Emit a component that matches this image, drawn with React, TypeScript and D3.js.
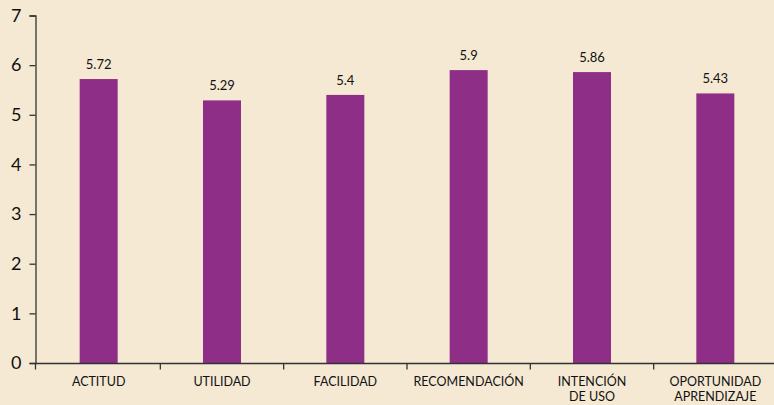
import React, { useEffect, useRef } from "react";
import * as d3 from "d3";

const categories: string[][] = [
  ["ACTITUD"],
  ["UTILIDAD"],
  ["FACILIDAD"],
  ["RECOMENDACIÓN"],
  ["INTENCIÓN", "DE USO"],
  ["OPORTUNIDAD", "APRENDIZAJE"],
];
const values = [5.72, 5.29, 5.4, 5.9, 5.86, 5.43];
const valueLabels = ["5.72", "5.29", "5.4", "5.9", "5.86", "5.43"];
const yTicks = [0, 1, 2, 3, 4, 5, 6, 7];

const W = 774;
const H = 405;
const FONT = "Lato, 'Open Sans', sans-serif";

const App: React.FC = () => {
  const svgRef = useRef<SVGSVGElement>(null);

  useEffect(() => {
    if (!svgRef.current) return;
    const svg = d3.select(svgRef.current);
    svg.selectAll("*").remove();

    svg.append("rect").attr("width", W).attr("height", H).attr("fill", "#f5e9d4");

    const keys = categories.map((c) => c.join(" "));
    const x = d3.scaleBand().domain(keys).range([37, 777]).padding(0);
    const y = d3.scaleLinear().domain([0, 7]).range([363, 15.5]);
    const barW = 38;

    svg
      .selectAll(".bar")
      .data(values)
      .enter()
      .append("rect")
      .attr("class", "bar")
      .attr("x", (_, i) => (x(keys[i]) as number) + x.bandwidth() / 2 - barW / 2)
      .attr("y", (d) => y(d))
      .attr("width", barW)
      .attr("height", (d) => y(0) - y(d))
      .attr("fill", "#8e2e86");

    svg
      .selectAll(".val")
      .data(values)
      .enter()
      .append("text")
      .attr("class", "val")
      .attr("x", (_, i) => (x(keys[i]) as number) + x.bandwidth() / 2)
      .attr("y", (d) => y(d) - 10)
      .attr("text-anchor", "middle")
      .style("font-family", FONT)
      .style("font-size", "13px")
      .style("fill", "#111")
      .text((_, i) => valueLabels[i]);

    // y axis
    const yAxis = svg
      .append("g")
      .attr("transform", "translate(35.5,0)")
      .call(d3.axisLeft(y).tickValues(yTicks).tickSize(6).tickPadding(8).tickFormat(d3.format("d")));
    yAxis.select(".domain").attr("stroke", "#333").attr("stroke-width", 1.3);
    yAxis.selectAll(".tick line").attr("stroke", "#333").attr("stroke-width", 1.3);
    yAxis
      .selectAll(".tick text")
      .style("font-family", FONT)
      .style("font-size", "18px")
      .style("fill", "#111");

    // x axis
    const xAxisG = svg.append("g").attr("transform", "translate(0,363.5)");
    xAxisG
      .append("line")
      .attr("x1", 35.5)
      .attr("x2", W)
      .attr("stroke", "#333")
      .attr("stroke-width", 1.3);
    const boundaries = keys.map((k) => x(k) as number);
    xAxisG
      .selectAll(".xt")
      .data(boundaries)
      .enter()
      .append("line")
      .attr("x1", (d, i) => (i === 0 ? 35.5 : d))
      .attr("x2", (d, i) => (i === 0 ? 35.5 : d))
      .attr("y1", 0)
      .attr("y2", 6)
      .attr("stroke", "#333")
      .attr("stroke-width", 1.3);

    const labels = xAxisG
      .selectAll(".xl")
      .data(categories)
      .enter()
      .append("text")
      .attr("class", "xl")
      .attr("text-anchor", "middle")
      .attr("transform", (_, i) => `translate(${(x(keys[i]) as number) + x.bandwidth() / 2},0)`)
      .style("font-family", FONT)
      .style("font-size", "12.5px")
      .style("fill", "#111");
    labels
      .selectAll("tspan")
      .data((d) => d)
      .enter()
      .append("tspan")
      .attr("x", 0)
      .attr("y", (_, j) => 22 + j * 15)
      .text((d) => d);
  }, []);

  return (
    <div style={{ position: "absolute", left: 0, top: 0 }}>
      <svg ref={svgRef} width={W} height={H} style={{ display: "block" }} />
    </div>
  );
};

export default App;
